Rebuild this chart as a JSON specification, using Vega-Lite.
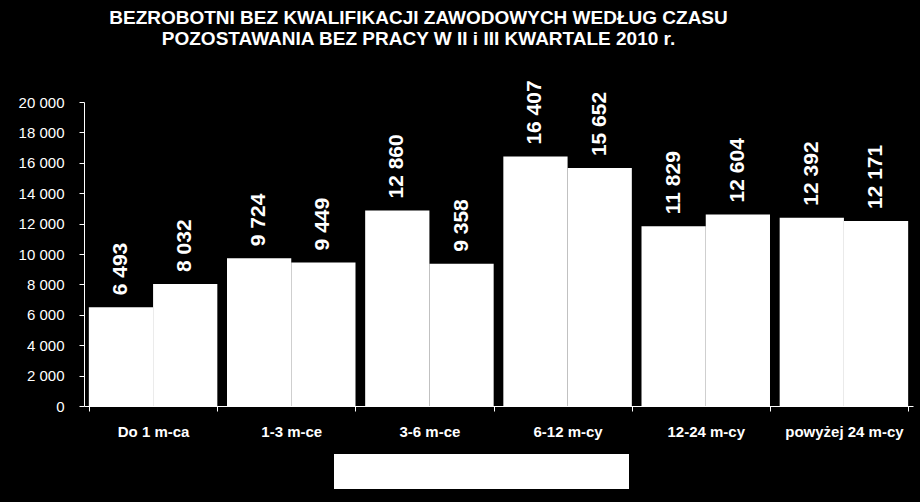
{
  "$schema": "https://vega.github.io/schema/vega-lite/v6.json",
  "autosize": "none",
  "width": 829,
  "height": 304,
  "padding": {"left": 84, "top": 102, "right": 7, "bottom": 96},
  "background": "black",
  "title": {
    "text": ["BEZROBOTNI BEZ KWALIFIKACJI ZAWODOWYCH  WEDŁUG CZASU", "POZOSTAWANIA BEZ PRACY W  II i III KWARTALE 2010 r."],
    "color": "white",
    "font": "Liberation Sans",
    "fontSize": 19,
    "fontWeight": "bold",
    "anchor": "middle",
    "dx": -80,
    "offset": 31,
    "lineHeight": 21
  },
  "data": {
    "values": [
      {"okres": "Do 1 m-ca", "kwartal": "II kwartał", "liczba": 6493},
      {"okres": "Do 1 m-ca", "kwartal": "III kwartał", "liczba": 8032},
      {"okres": "1-3 m-ce", "kwartal": "II kwartał", "liczba": 9724},
      {"okres": "1-3 m-ce", "kwartal": "III kwartał", "liczba": 9449},
      {"okres": "3-6 m-ce", "kwartal": "II kwartał", "liczba": 12860},
      {"okres": "3-6 m-ce", "kwartal": "III kwartał", "liczba": 9358},
      {"okres": "6-12 m-cy", "kwartal": "II kwartał", "liczba": 16407},
      {"okres": "6-12 m-cy", "kwartal": "III kwartał", "liczba": 15652},
      {"okres": "12-24 m-cy", "kwartal": "II kwartał", "liczba": 11829},
      {"okres": "12-24 m-cy", "kwartal": "III kwartał", "liczba": 12604},
      {"okres": "powyżej 24 m-cy", "kwartal": "II kwartał", "liczba": 12392},
      {"okres": "powyżej 24 m-cy", "kwartal": "III kwartał", "liczba": 12171}
    ]
  },
  "encoding": {
    "x": {
      "field": "okres",
      "type": "nominal",
      "sort": null,
      "scale": {"paddingInner": 0.07, "paddingOuter": 0.035},
      "axis": {
        "title": null,
        "labelAngle": 0,
        "labelFont": "Liberation Sans",
        "labelFontSize": 15,
        "labelFontWeight": "bold",
        "labelColor": "white",
        "labelPadding": 13,
        "tickBand": "extent",
        "tickSize": 5,
        "tickColor": "white",
        "domainColor": "white"
      }
    },
    "xOffset": {"field": "kwartal", "type": "nominal", "sort": null},
    "y": {
      "field": "liczba",
      "type": "quantitative",
      "scale": {"domain": [0, 20000], "nice": false},
      "axis": {
        "title": null,
        "grid": false,
        "values": [0, 2000, 4000, 6000, 8000, 10000, 12000, 14000, 16000, 18000, 20000],
        "format": ",d",
        "labelFont": "Liberation Sans",
        "labelFontSize": 15,
        "labelColor": "white",
        "labelPadding": 15,
        "tickSize": 5,
        "tickColor": "white",
        "domainColor": "white"
      }
    }
  },
  "layer": [
    {
      "mark": {"type": "bar", "color": "white"},
      "encoding": {
        "color": {
          "field": "kwartal",
          "type": "nominal",
          "scale": {"range": ["white", "white"]},
          "legend": {
            "title": null,
            "orient": "none",
            "legendX": 250,
            "legendY": 352,
            "direction": "horizontal",
            "fillColor": "white",
            "padding": 10,
            "columnPadding": 121,
            "symbolType": "square",
            "symbolFillColor": "white",
            "symbolStrokeColor": "white",
            "labelColor": "white",
            "labelFont": "Liberation Sans",
            "labelFontSize": 14
          }
        }
      }
    },
    {
      "mark": {
        "type": "text",
        "angle": 270,
        "align": "left",
        "baseline": "middle",
        "dx": 12,
        "color": "white",
        "font": "Liberation Sans",
        "fontSize": 21,
        "fontWeight": "bold"
      },
      "encoding": {
        "text": {"field": "liczba", "type": "quantitative", "format": ",d"}
      }
    }
  ],
  "config": {
    "view": {"stroke": null},
    "locale": {
      "number": {"decimal": ",", "thousands": " ", "grouping": [3], "currency": ["", " zł"]}
    }
  }
}
